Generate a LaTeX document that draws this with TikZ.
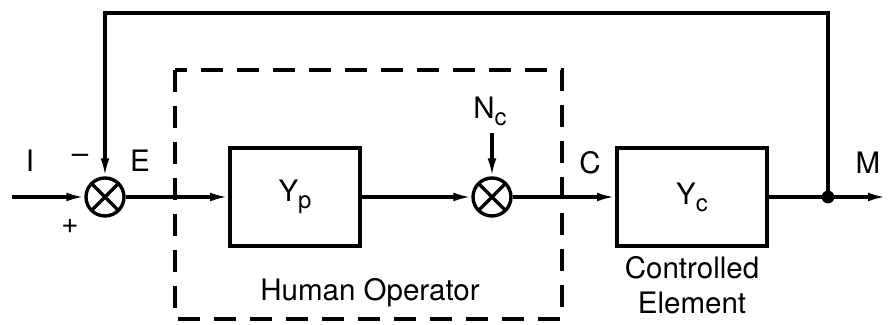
\documentclass[tikz,border=0pt]{standalone}
\usepackage{fontspec}
\setmainfont{TeX Gyre Heros}
\usetikzlibrary{arrows.meta}
\newcommand{\lowsub}[1]{\raisebox{-0.45ex}{\fontsize{17}{17}\selectfont #1}}

\begin{document}
\begin{tikzpicture}[every node/.style={font=\fontsize{21}{25}\selectfont}, >={Latex[length=4.5mm,width=2.2mm]}, line width=2.2pt,
	blk/.style={draw, line width=2.8pt, minimum width=#1, minimum height=2.45cm},
	sumpt/.style={draw, circle, line width=2.4pt, minimum size=0.95cm, inner sep=0pt, path picture={
		\draw[line width=2.4pt] (path picture bounding box.north west) -- (path picture bounding box.south east)
			(path picture bounding box.north east) -- (path picture bounding box.south west);}}]
	\useasboundingbox (0,0) rectangle (22.225,8.125);
	% operator boundary
	\draw[dashed, dash pattern=on 0.55cm off 0.35cm] (4.375,6.375) rectangle (14.05,0.15);
	\node[sumpt] (s1) at (2.625,3.2) {};
	\node[blk=3.25cm] (yp) at (7.375,3.2) {Y\lowsub{p}};
	\node[sumpt] (s2) at (12.3,3.2) {};
	\node[blk=3.75cm] (yc) at (17.3,3.2) {Y\lowsub{c}};
	\coordinate (in) at (0.3,3.2);
	\coordinate (out) at (22.15,3.2);
	\node[inner sep=0pt] (nc) at (12.25,5.35) {N\lowsub{c}};
	\fill (20.7,3.2) circle (0.16) coordinate (tap);
	\draw[->] (in) -- (s1);
	\draw[->] (s1) -- (yp);
	\draw[->] (yp) -- (s2);
	\draw[->] (nc.south -| s2) ++(0,-0.15) -- (s2);
	\draw[->] (s2) -- (yc);
	\draw[->] (yc) -- (out);
	\draw[->] (tap) -- (20.7,7.8) -| (s1);
	\node at (0.75,4.1) {I};
	\node at (2.0,4.15) {–};
	\node at (3.5,4.1) {E};
	\node at (1.75,2.45) {+};
	\node at (14.75,4.05) {C};
	\node at (21.7,4.05) {M};
	\node at (9.25,0.8) {Human Operator};
	\node[align=center] at (17.3,1.0) {Controlled\\Element};
\end{tikzpicture}
\end{document}
